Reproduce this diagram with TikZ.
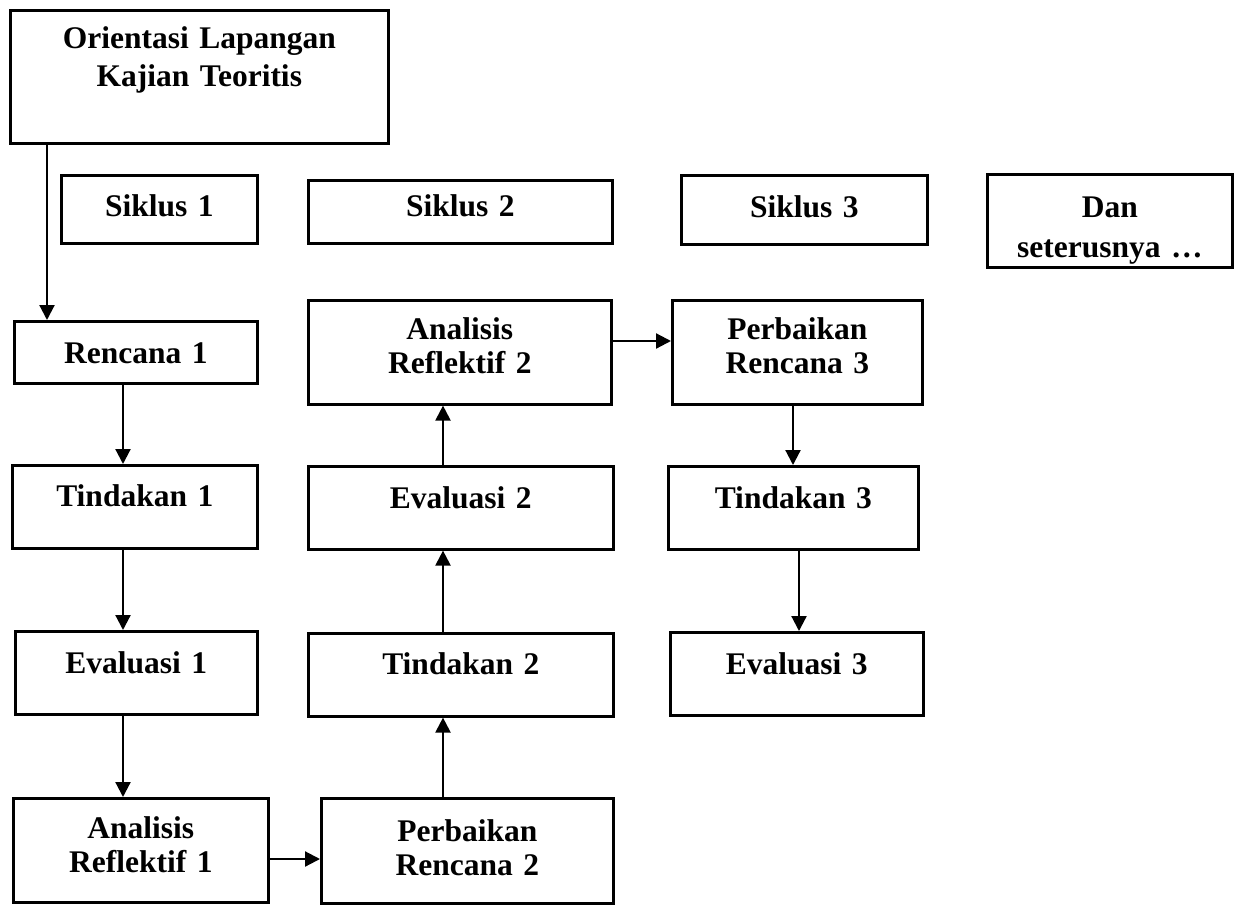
\documentclass[tikz,border=0pt]{standalone}
\usepackage{fontspec}
\setmainfont{Liberation Serif}
\usetikzlibrary{arrows.meta}
\tikzset {
	stage/.style n args={3}{rectangle, draw, line width=2.6pt, inner sep=0pt, anchor=north west, align=center,
					text width=#1pt, text height=#2pt, text depth=#3pt, font=\bfseries\fontsize{31.5}{34}\selectfont},
	flow/.style={-{Triangle[length=15pt, width=15pt]}, line width=2.2pt}
}

\begin{document}
\begin{tikzpicture}[x=1pt, y=-1pt]
	\useasboundingbox (0,0) rectangle (1238,904);
	\node [stage={378}{38.5}{94.5}, font=\bfseries\fontsize{31.5}{38}\selectfont] (orient) at (9,9) {Orientasi Lapangan\\Kajian Teoritis};
	\node [stage={196}{41.5}{26.5}] (siklus1) at (60,174) {Siklus 1};
	\node [stage={304}{36.5}{26.5}] (siklus2) at (307,179) {Siklus 2};
	\node [stage={246}{42.5}{26.5}] (siklus3) at (680,174) {Siklus 3};
	\node [stage={245}{43.5}{49.5}, font=\bfseries\fontsize{31.5}{40}\selectfont] (lanjut) at (986,173) {Dan\\seterusnya …};
	\node [stage={243}{42.5}{19.5}] (rencana1) at (13,320) {Rencana 1};
	\node [stage={245}{41.5}{41.5}] (tindakan1) at (11,464) {Tindakan 1};
	\node [stage={242}{42.5}{40.5}] (evaluasi1) at (14,630) {Evaluasi 1};
	\node [stage={255}{40.5}{63.5}] (analisis1) at (12,797) {Analisis\\Reflektif 1};
	\node [stage={292}{43.5}{61.5}] (perbaikan2) at (320,797) {Perbaikan\\Rencana 2};
	\node [stage={305}{41.5}{41.5}] (tindakan2) at (307,632) {Tindakan 2};
	\node [stage={305}{42.5}{40.5}] (evaluasi2) at (307,465) {Evaluasi 2};
	\node [stage={303}{39.5}{64.5}] (analisis2) at (307,299) {Analisis\\Reflektif 2};
	\node [stage={250}{39.5}{64.5}] (perbaikan3) at (671,299) {Perbaikan\\Rencana 3};
	\node [stage={250}{42.5}{40.5}] (tindakan3) at (667,465) {Tindakan 3};
	\node [stage={253}{42.5}{40.5}] (evaluasi3) at (669,631) {Evaluasi 3};
	\coordinate (masuk) at (47,0);
	\coordinate (jalur1) at (123,0);
	\coordinate (jalur2) at (443,0);
	\coordinate (jalur3) at (793,0);
	\coordinate (jalur4) at (799,0);
	\coordinate (baris1) at (0,341);
	\coordinate (baris2) at (0,859);
	\draw [flow] (orient.south -| masuk) -- (rencana1.north -| masuk);
	\draw [flow] (rencana1.south -| jalur1) -- (tindakan1.north -| jalur1);
	\draw [flow] (tindakan1.south -| jalur1) -- (evaluasi1.north -| jalur1);
	\draw [flow] (evaluasi1.south -| jalur1) -- (analisis1.north -| jalur1);
	\draw [flow] (analisis1.east |- baris2) -- (perbaikan2.west |- baris2);
	\draw [flow] (perbaikan2.north -| jalur2) -- (tindakan2.south -| jalur2);
	\draw [flow] (tindakan2.north -| jalur2) -- (evaluasi2.south -| jalur2);
	\draw [flow] (evaluasi2.north -| jalur2) -- (analisis2.south -| jalur2);
	\draw [flow] (analisis2.east |- baris1) -- (perbaikan3.west |- baris1);
	\draw [flow] (perbaikan3.south -| jalur3) -- (tindakan3.north -| jalur3);
	\draw [flow] (tindakan3.south -| jalur4) -- (evaluasi3.north -| jalur4);
\end{tikzpicture}
\end{document}
